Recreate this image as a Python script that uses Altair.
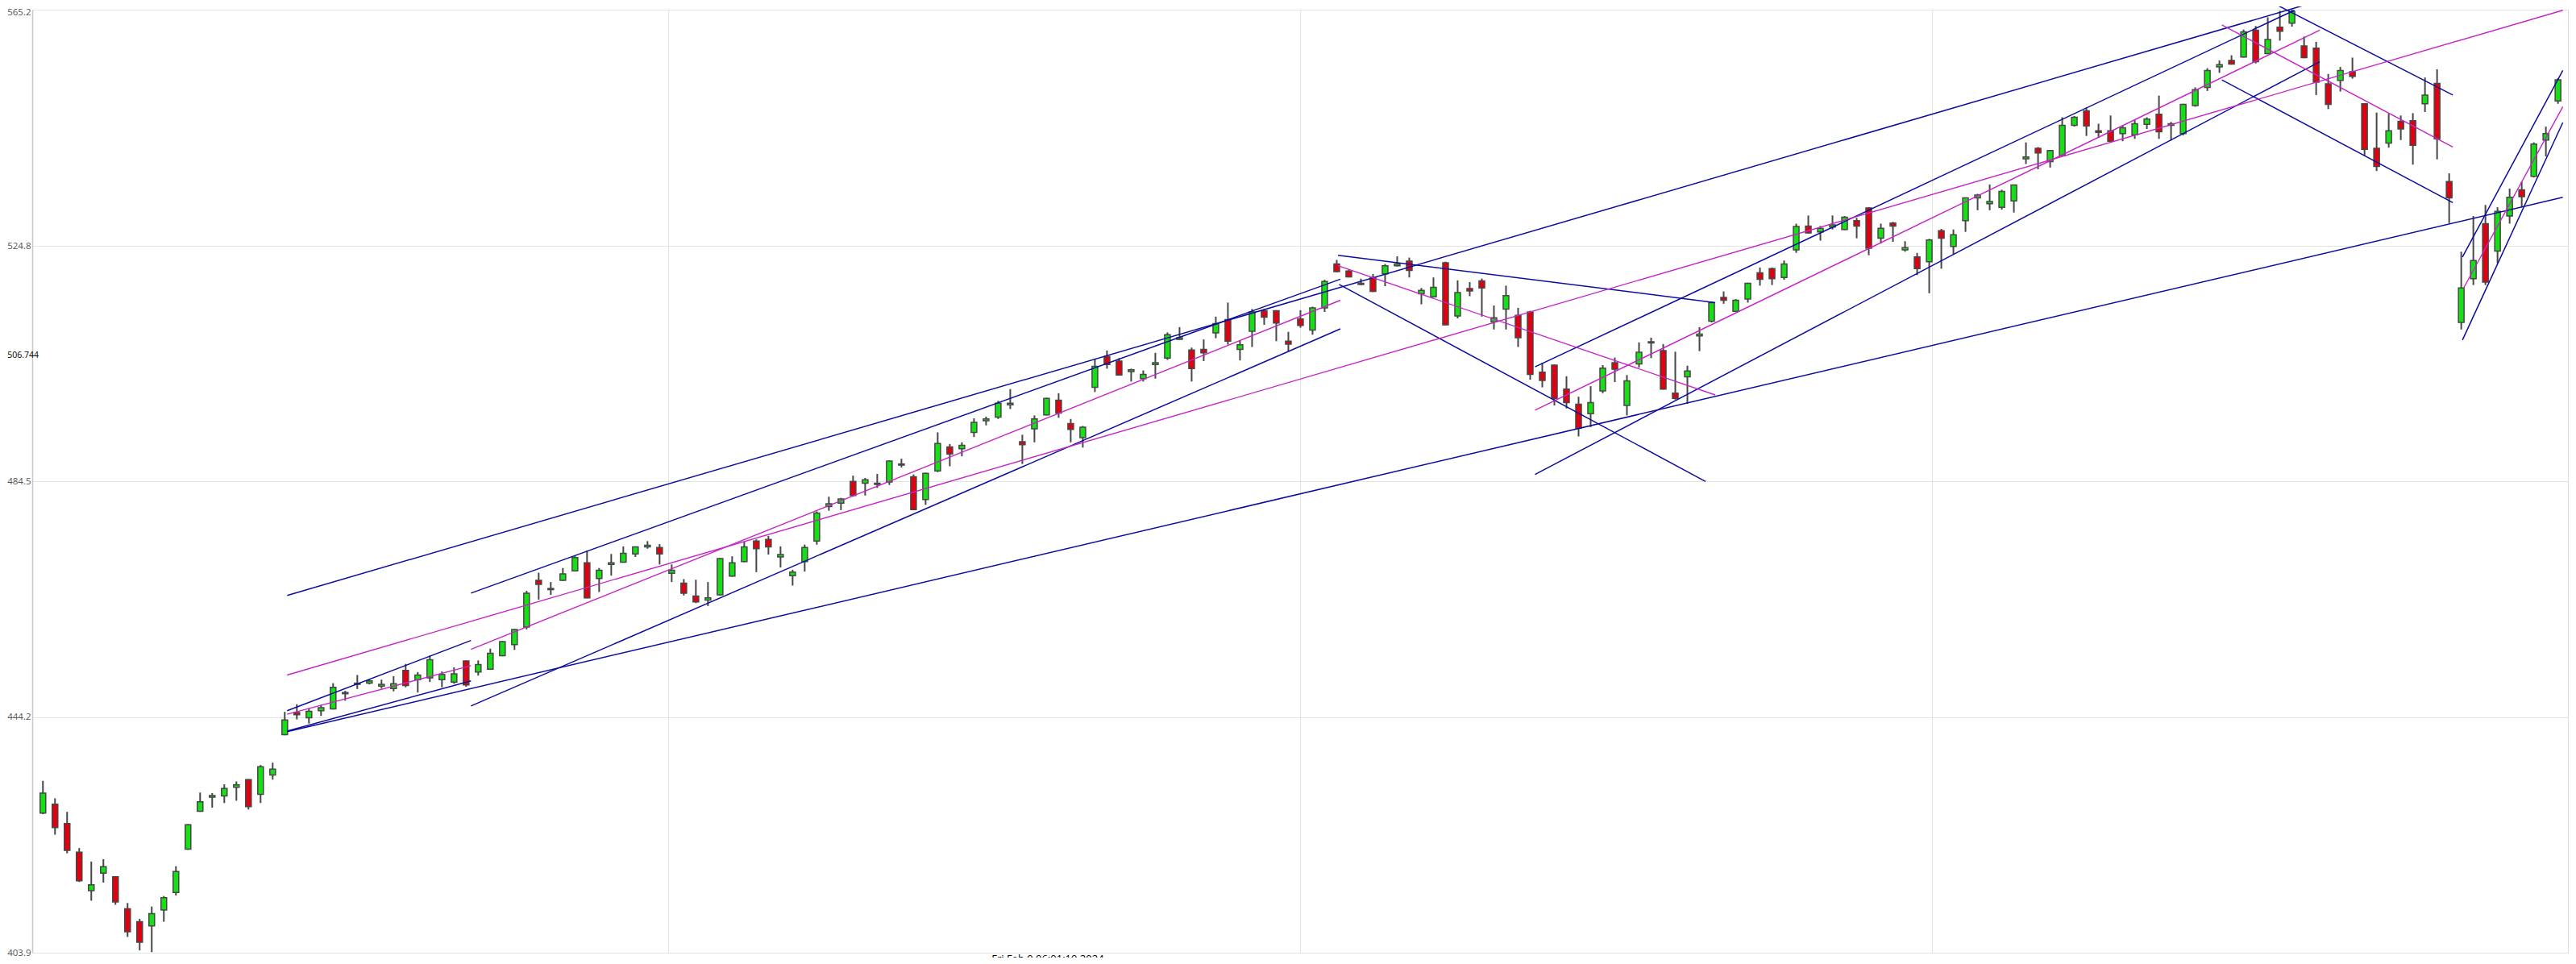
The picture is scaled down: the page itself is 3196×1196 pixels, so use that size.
import altair as alt
import pandas as pd

# ---- candle data (index = trading day) ----
opens = [427.8, 429.3, 426.0, 421.1, 414.5, 417.5, 416.9, 411.4, 409.2, 408.5,
         411.2, 414.2, 421.6, 428.1, 430.5, 430.7, 432.2, 433.5, 431.0, 434.3,
         441.2, 445.0, 444.1, 445.3, 445.6, 448.2, 449.8, 450.0, 449.5, 449.1,
         452.2, 450.6, 450.9, 450.6, 450.2, 453.8, 451.9, 452.4, 454.7, 456.6,
         459.6, 467.6, 466.0, 467.6, 469.2, 470.6, 467.9, 470.3, 470.7, 472.1,
         473.3, 473.2, 468.8, 467.1, 464.9, 464.2, 465.1, 468.3, 470.8, 474.3,
         474.6, 471.6, 468.4, 470.8, 474.3, 480.2, 480.8, 484.5, 484.2, 484.0,
         484.4, 487.3, 485.3, 481.4, 486.3, 490.4, 490.1, 492.9, 494.9, 495.5,
         497.6, 491.3, 493.5, 495.9, 498.4, 494.4, 492.0, 500.6, 505.9, 505.1,
         503.3, 502.1, 504.5, 505.6, 508.8, 507.0, 507.1, 509.9, 512.2, 507.1,
         510.2, 513.7, 513.7, 508.5, 512.3, 510.4, 514.2, 521.7, 520.5, 518.2,
         519.4, 520.0, 521.4, 522.2, 516.6, 516.1, 521.9, 512.8, 517.5, 518.8,
         511.8, 514.0, 512.9, 513.5, 503.2, 504.4, 500.3, 497.7, 496.1, 500.0,
         504.8, 497.5, 504.6, 508.2, 506.9, 499.6, 502.4, 509.4, 511.9, 516.0,
         513.6, 515.7, 520.2, 520.9, 519.4, 524.1, 528.2, 527.2, 528.0, 527.6,
         529.1, 531.3, 526.1, 528.7, 524.1, 522.9, 522.1, 527.4, 524.7, 529.1,
         533.0, 532.0, 531.4, 532.5, 539.7, 541.5, 539.2, 540.2, 545.4, 547.9,
         544.5, 544.5, 544.0, 543.8, 545.6, 547.3, 545.4, 544.0, 548.8, 551.9,
         555.4, 556.5, 557.1, 561.7, 557.7, 562.2, 562.9, 559.0, 558.6, 552.5,
         553.1, 554.6, 549.1, 541.5, 542.4, 546.1, 546.2, 549.1, 552.6, 535.8,
         511.7, 519.2, 528.6, 523.9, 529.9, 534.4, 536.7, 542.9, 549.6]
highs = [433.3, 430.3, 428.0, 421.8, 419.5, 419.9, 417.0, 412.4, 409.7, 411.8,
         413.6, 418.7, 425.9, 431.3, 431.2, 432.7, 433.2, 433.6, 436.0, 436.4,
         445.1, 446.4, 445.7, 446.3, 450.0, 448.7, 451.4, 450.7, 450.6, 451.2,
         453.3, 451.9, 454.7, 452.0, 452.7, 453.9, 453.9, 455.9, 457.2, 459.3,
         465.8, 468.9, 467.3, 469.7, 471.8, 472.7, 469.7, 472.1, 473.4, 473.4,
         474.3, 473.8, 470.3, 467.8, 467.7, 467.3, 471.4, 471.7, 474.2, 474.6,
         475.2, 473.4, 469.4, 473.7, 479.4, 481.9, 481.7, 485.5, 485.1, 485.8,
         488.1, 488.4, 485.7, 486.0, 492.9, 490.9, 491.2, 495.3, 495.6, 498.3,
         500.3, 492.5, 495.8, 498.8, 499.6, 495.2, 494.0, 505.4, 506.9, 505.6,
         503.8, 503.5, 506.5, 510.0, 510.9, 507.4, 508.8, 512.7, 515.1, 508.6,
         514.0, 514.0, 513.8, 510.1, 513.8, 514.4, 519.0, 522.4, 520.8, 519.2,
         520.0, 521.7, 523.0, 522.8, 517.6, 519.4, 522.1, 518.9, 518.6, 519.2,
         514.6, 518.0, 514.2, 513.7, 504.8, 504.5, 502.5, 499.0, 500.8, 504.4,
         505.7, 502.7, 508.3, 509.1, 508.0, 506.7, 504.3, 510.9, 515.3, 517.0,
         515.7, 518.5, 521.1, 521.1, 522.3, 528.6, 530.0, 528.2, 530.0, 529.9,
         529.6, 531.4, 528.6, 528.9, 525.6, 523.6, 526.0, 527.7, 527.6, 533.1,
         533.7, 535.3, 534.4, 535.3, 542.5, 541.7, 541.2, 546.8, 547.0, 548.4,
         545.7, 547.1, 545.4, 546.3, 546.8, 550.5, 546.0, 549.1, 551.9, 555.2,
         556.5, 557.4, 561.8, 562.4, 563.9, 565.0, 565.2, 560.6, 559.7, 554.2,
         555.4, 557.0, 549.2, 547.6, 547.4, 547.1, 547.5, 553.6, 555.0, 537.2,
         523.8, 529.9, 531.8, 531.4, 534.6, 535.8, 542.5, 545.2, 553.5]
lows = [427.6, 424.1, 420.9, 416.0, 412.8, 415.9, 412.1, 406.6, 404.3, 404.0,
        409.2, 413.7, 421.5, 428.0, 428.7, 429.5, 429.9, 428.4, 429.5, 433.5,
        441.1, 443.8, 443.1, 444.4, 445.5, 447.0, 449.0, 449.8, 449.1, 448.6,
        449.3, 448.4, 450.2, 449.3, 449.9, 449.4, 451.3, 452.3, 454.6, 455.7,
        459.2, 464.3, 465.1, 467.5, 469.1, 464.5, 465.6, 468.4, 470.6, 471.6,
        473.0, 470.3, 467.3, 465.0, 463.7, 463.2, 465.0, 468.2, 470.7, 469.0,
        472.0, 469.8, 466.7, 469.1, 473.7, 479.5, 479.6, 481.9, 482.1, 483.4,
        483.9, 486.9, 479.6, 480.5, 486.1, 487.1, 488.8, 492.1, 494.1, 495.2,
        496.9, 487.5, 491.2, 495.8, 495.4, 491.2, 490.3, 499.8, 503.8, 502.6,
        501.6, 501.6, 502.1, 505.3, 508.7, 501.6, 505.1, 509.0, 507.9, 505.2,
        507.5, 511.3, 508.5, 506.7, 510.8, 509.6, 513.5, 520.3, 519.4, 518.1,
        516.9, 517.9, 521.3, 519.4, 514.8, 516.0, 511.2, 512.4, 516.2, 512.7,
        510.5, 510.5, 507.5, 501.9, 500.6, 497.5, 497.0, 492.2, 493.8, 499.6,
        501.5, 495.8, 504.0, 505.6, 500.2, 498.5, 497.8, 506.8, 511.7, 514.9,
        513.5, 515.1, 518.0, 518.1, 519.0, 523.6, 526.9, 525.7, 527.6, 527.5,
        526.1, 523.2, 525.2, 525.5, 523.8, 519.8, 516.7, 520.9, 523.4, 527.2,
        530.9, 530.9, 531.0, 530.5, 538.8, 537.9, 538.2, 540.1, 545.2, 543.6,
        543.3, 542.5, 542.7, 543.1, 544.8, 543.1, 542.8, 543.7, 548.6, 551.3,
        554.4, 555.8, 557.0, 556.0, 557.6, 559.9, 562.3, 556.9, 550.6, 548.2,
        551.2, 553.4, 540.2, 537.6, 541.6, 542.9, 538.7, 547.7, 539.6, 528.7,
        510.5, 518.1, 518.1, 521.8, 528.6, 531.4, 536.5, 540.1, 549.1]
closes = [431.2, 425.3, 421.4, 416.2, 415.5, 418.6, 412.6, 407.5, 405.7, 410.6,
          413.3, 417.8, 425.8, 429.7, 430.8, 432.0, 432.6, 428.9, 435.7, 435.3,
          443.7, 444.6, 445.2, 445.8, 449.3, 448.4, 450.0, 450.4, 449.8, 449.9,
          449.6, 451.4, 454.0, 451.5, 451.6, 449.7, 453.2, 455.1, 457.1, 459.2,
          465.4, 466.9, 466.2, 468.7, 471.5, 464.6, 469.3, 470.6, 472.2, 473.3,
          473.6, 472.1, 469.3, 465.4, 463.9, 464.6, 471.3, 470.6, 473.3, 473.0,
          473.3, 472.0, 469.0, 473.2, 479.1, 480.7, 481.5, 482.1, 484.8, 484.2,
          488.0, 487.5, 479.7, 485.9, 491.0, 489.2, 490.7, 494.6, 495.2, 497.9,
          497.9, 490.8, 495.2, 498.7, 496.2, 493.4, 493.8, 504.2, 504.5, 502.7,
          503.6, 502.8, 504.8, 509.6, 509.1, 503.8, 506.5, 511.5, 508.5, 507.9,
          513.5, 512.6, 511.6, 508.0, 511.2, 514.2, 518.7, 520.4, 519.5, 518.4,
          517.0, 521.4, 521.7, 520.6, 517.2, 517.7, 511.3, 516.8, 517.1, 517.6,
          512.5, 516.3, 509.1, 502.8, 501.8, 498.7, 498.0, 493.6, 498.0, 503.9,
          503.7, 501.7, 506.6, 508.4, 500.3, 498.7, 503.4, 509.7, 515.1, 515.5,
          515.5, 518.4, 519.1, 519.2, 521.7, 528.1, 527.0, 527.8, 528.4, 529.7,
          528.2, 524.4, 527.8, 528.2, 524.5, 520.9, 525.8, 526.1, 526.7, 533.0,
          533.5, 532.4, 534.1, 535.2, 540.0, 540.7, 541.1, 545.4, 546.8, 545.3,
          544.2, 542.7, 545.0, 545.7, 546.5, 544.3, 545.7, 549.0, 551.5, 554.8,
          555.8, 555.9, 561.4, 556.3, 560.1, 561.5, 564.9, 557.0, 552.8, 549.0,
          554.8, 553.8, 541.3, 538.4, 544.5, 544.8, 542.0, 550.6, 543.1, 533.0,
          517.6, 522.3, 518.6, 530.7, 533.1, 533.2, 542.2, 544.0, 553.2]

# ---- drawn trend lines (start/end in index & price) ----
tl_i1 = [20.2, 20.2, 20.2, 20.2, 20.2, 20.2, 35.4, 35.4, 35.4, 107.1, 107.1,
         107.2, 123.4, 123.4, 123.4, 184.0, 180.2, 180.2, 200.1, 200.2, 200.1]
tl_v1 = [465.0, 441.7, 451.4, 445.3, 444.7, 441.8, 465.4, 455.8, 446.1, 523.2,
         521.4, 518.2, 504.1, 496.7, 485.7, 566.8, 562.6, 553.2, 522.9, 517.6,
         508.7]
tl_i2 = [188.4, 208.4, 208.4, 35.4, 35.4, 35.4, 107.3, 107.3, 107.3, 138.3,
         138.3, 137.5, 186.2, 188.3, 188.3, 199.3, 199.3, 199.3, 208.4, 208.4,
         208.4]
tl_v2 = [566.8, 533.1, 565.1, 457.3, 453.0, 450.4, 519.1, 515.5, 510.6, 515.1,
         499.3, 484.5, 565.1, 561.7, 556.3, 550.6, 541.7, 532.2, 554.8, 548.6,
         545.9]
tl_kind = ["blue", "blue", "magenta", "blue", "magenta", "blue", "blue",
           "magenta", "blue", "blue", "magenta", "blue", "blue", "magenta",
           "blue", "blue", "magenta", "blue", "blue", "magenta", "blue"]

y_ticks = [403.9, 444.2, 484.5, 524.8, 565.2]
x_grid = [51.72, 103.97, 156.22]
last_price = 506.744
cursor_i = 83.1
cursor_label = "Fri Feb 9 06:01:19 2024"

candles = pd.DataFrame({
    "i": list(range(len(opens))),
    "open": opens, "high": highs, "low": lows, "close": closes,
})
candles["dir"] = ["up" if c >= o else "down" for o, c in zip(opens, closes)]

lines = pd.DataFrame({"i1": tl_i1, "v1": tl_v1, "i2": tl_i2, "v2": tl_v2,
                      "kind": tl_kind})

W, H = 3146, 1170
xs = alt.Scale(domain=[-0.55, 208.49], nice=False, zero=False)
ys = alt.Scale(domain=[403.9, 565.2], nice=False, zero=False)

wicks = alt.Chart(candles).mark_rule(color="#474747", strokeWidth=2).encode(
    x=alt.X("i:Q", scale=xs, title=None,
            axis=alt.Axis(values=x_grid, labels=False, ticks=False,
                          domain=False, grid=True, gridColor="#e4e4e4",
                          title=None)),
    y=alt.Y("low:Q", scale=ys, title=None,
            axis=alt.Axis(values=y_ticks, format=".1f", grid=True,
                          gridColor="#e4e4e4", domain=True,
                          domainColor="#c8c8c8", domainWidth=1.5,
                          ticks=False, labelPadding=2,
                          labelOffset={"condition": {"test": "datum.value > 565",
                                                     "value": 3},
                                       "value": 0},
                          labelFont="Open Sans", labelFontSize=11.5,
                          labelColor="#555555", title=None)),
    y2="high:Q",
)

bodies = alt.Chart(candles).mark_bar(size=7, stroke="#474747",
                                     strokeWidth=1.5).encode(
    x=alt.X("i:Q", scale=xs, title=None),
    y=alt.Y("open:Q", scale=ys, title=None),
    y2="close:Q",
    fill=alt.Fill("dir:N", scale=alt.Scale(domain=["up", "down"],
                                           range=["#14e014", "#e00010"]),
                  legend=None),
)

blue_lines = alt.Chart(lines).transform_filter(
    alt.datum.kind == "blue").mark_rule(strokeWidth=1.5,
                                        color="#0c0c9c").encode(
    x=alt.X("i1:Q", scale=xs, title=None),
    y=alt.Y("v1:Q", scale=ys, title=None),
    x2="i2:Q",
    y2="v2:Q",
)

magenta_lines = alt.Chart(lines).transform_filter(
    alt.datum.kind == "magenta").mark_rule(strokeWidth=1.4,
                                           color="#c526c5").encode(
    x=alt.X("i1:Q", scale=xs, title=None),
    y=alt.Y("v1:Q", scale=ys, title=None),
    x2="i2:Q",
    y2="v2:Q",
)

price_lbl = alt.Chart(pd.DataFrame({"v": [last_price],
                                    "t": [f"{last_price}"]})).mark_text(
    align="right", baseline="middle", dy=5, font="Open Sans", fontSize=10.5,
    color="#000000").encode(
    x=alt.value(8),
    y=alt.Y("v:Q", scale=ys, title=None),
    text="t:N",
)

time_lbl = alt.Chart(pd.DataFrame({"i": [cursor_i],
                                   "t": [cursor_label]})).mark_text(
    align="center", baseline="top", font="Open Sans", fontSize=13,
    color="#000000").encode(
    x=alt.X("i:Q", scale=xs, title=None),
    y=alt.value(H + 2),
    text="t:N",
)

chart = alt.layer(wicks, bodies, blue_lines, magenta_lines, price_lbl,
                  time_lbl).properties(
    width=W, height=H,
    padding={"left": 32, "top": 4, "right": 2, "bottom": 6},
    autosize=alt.AutoSizeParams(type="none"),
    background="#ffffff",
).configure_view(stroke="#dcdcdc", strokeWidth=1)

chart.save("out.html", embed_options={"renderer": "svg", "actions": False})
